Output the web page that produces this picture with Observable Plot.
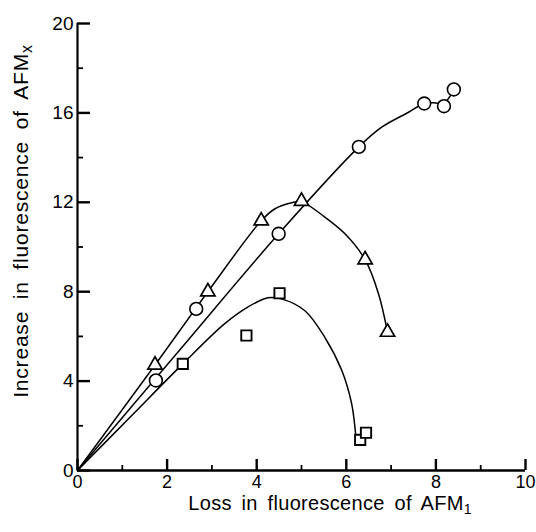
<!DOCTYPE html>
<html><head><meta charset="utf-8">
<script src="https://cdn.jsdelivr.net/npm/d3@7"></script>
<script src="https://cdn.jsdelivr.net/npm/@observablehq/plot@0.6"></script>
<style>
html,body{margin:0;padding:0;background:#fff;}
#chart svg{display:block;}
</style></head><body><div id="chart"></div>
<script>
// Measured points
const circleX = [1.75, 2.65, 4.49, 6.28, 7.74, 8.18, 8.40];
const circleY = [4.03, 7.23, 10.59, 14.48, 16.42, 16.30, 17.05];
const triangleX = [1.73, 2.91, 4.10, 5.00, 6.42, 6.92];
const triangleY = [4.72, 8.00, 11.17, 12.05, 9.43, 6.19];
const squareX = [2.35, 3.77, 4.51, 6.31, 6.44];
const squareY = [4.77, 6.04, 7.93, 1.37, 1.69];

// Hand-drawn fitted curves
const circleFitX = [0, 2.2, 4.49, 6.28, 6.79, 7.39, 7.74, 7.95, 8.18, 8.38];
const circleFitY = [0, 5.2, 10.59, 14.48, 15.36, 16.03, 16.42, 16.45, 16.45, 16.95];
const triangleFitX = [0, 1.73, 2.91, 4.10, 4.40, 4.78, 5.00, 5.52, 5.97, 6.42, 6.72, 6.92];
const triangleFitY = [0, 4.72, 8.00, 11.17, 11.70, 11.98, 12.02, 11.34, 10.59, 9.43, 7.90, 6.19];
const squareFitX = [0, 1.2, 2.35, 3.28, 3.80, 4.25, 4.55, 5.07, 5.52, 5.90, 6.12, 6.20, 6.21];
const squareFitY = [0, 2.44, 4.77, 6.56, 7.31, 7.73, 7.68, 7.16, 5.96, 4.47, 2.98, 1.79, 1.57];

const xMajorTicks = [0, 2, 4, 6, 8, 10];
const xMinorTicks = [1, 3, 5, 7, 9];
const yMajorTicks = [0, 4, 8, 12, 16, 20];
const yMinorTicks = [2, 6, 10, 14, 18];

const xLabelMain = "Loss in fluorescence of AFM";
const xLabelSub = "1";
const yLabelMain = "Increase in fluorescence of AFM";
const yLabelSub = "x";

const pts = (xs, ys) => xs.map((x, i) => ({x, y: ys[i]}));

const W = 536, H = 532;
const mL = 77, mR = 11, mT = 23, mB = 62;

const chart = Plot.plot({
  width: W, height: H,
  marginLeft: mL, marginRight: mR, marginTop: mT, marginBottom: mB,
  x: {domain: [0, 10]},
  y: {domain: [0, 20]},
  style: {fontFamily: "'Liberation Sans', Arial, sans-serif", color: "black", background: "white"},
  marks: [
    Plot.line(pts(circleFitX, circleFitY), {x: "x", y: "y", curve: "catmull-rom", stroke: "black", strokeWidth: 1.5}),
    Plot.line(pts(triangleFitX, triangleFitY), {x: "x", y: "y", curve: "catmull-rom", stroke: "black", strokeWidth: 1.5}),
    Plot.line(pts(squareFitX, squareFitY), {x: "x", y: "y", curve: "catmull-rom", stroke: "black", strokeWidth: 1.5}),
    // axis lines
    Plot.ruleX([0], {y1: 0, y2: 20, stroke: "black", strokeWidth: 2.2}),
    Plot.ruleY([0], {x1: 0, x2: 10, stroke: "black", strokeWidth: 2.6}),
    // inward ticks + labels
    Plot.axisY(yMajorTicks, {anchor: "left", tickSize: -13, tickPadding: 17, stroke: "black", strokeWidth: 2.4, fontSize: 19, label: null}),
    Plot.axisY(yMinorTicks, {anchor: "left", tickSize: -6, fill: "none", stroke: "black", strokeWidth: 1.8, label: null}),
    Plot.axisX(xMajorTicks, {anchor: "bottom", tickSize: -11, tickPadding: 16, stroke: "black", strokeWidth: 2.4, fontSize: 18, label: null}),
    Plot.axisX(xMinorTicks, {anchor: "bottom", tickSize: -5, fill: "none", stroke: "black", strokeWidth: 1.8, label: null}),
    // markers
    Plot.dot(pts(squareX, squareY), {x: "x", y: "y", symbol: "square", r: 5.8, fill: "white", stroke: "black", strokeWidth: 1.9}),
    Plot.dot(pts(triangleX, triangleY), {x: "x", y: "y", symbol: "triangle", r: 5.3, fill: "white", stroke: "black", strokeWidth: 1.7}),
    Plot.dot(pts(circleX, circleY), {x: "x", y: "y", symbol: "circle", r: 6.4, fill: "white", stroke: "black", strokeWidth: 1.6})
  ]
});

const svg = d3.select(chart);
// x axis label
const xl = svg.append("text")
  .attr("x", 330).attr("y", 510)
  .attr("text-anchor", "middle")
  .attr("font-size", 20).attr("fill", "black")
  .attr("letter-spacing", 0.3)
  .attr("word-spacing", 4);
xl.append("tspan").text(xLabelMain);
xl.append("tspan").attr("dy", 4).attr("font-size", 14).text(xLabelSub);

// y axis label
const yl = svg.append("text")
  .attr("transform", `translate(28,221) rotate(-90)`)
  .attr("text-anchor", "middle")
  .attr("font-size", 21).attr("fill", "black")
  .attr("letter-spacing", 0.8)
  .attr("word-spacing", 5);
yl.append("tspan").text(yLabelMain);
yl.append("tspan").attr("dy", 4).attr("font-size", 16).text(yLabelSub);

document.getElementById("chart").append(chart);
</script>
</body></html>
